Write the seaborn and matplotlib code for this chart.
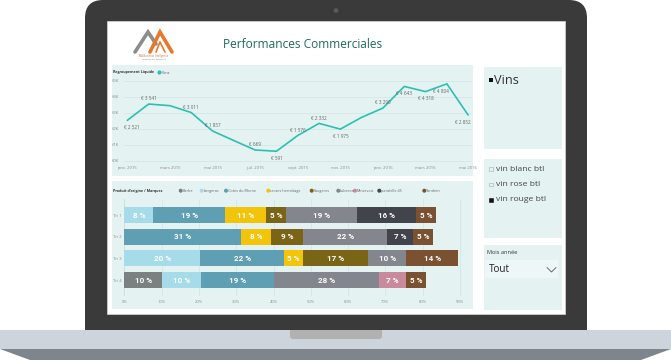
import numpy as np
import pandas as pd
import matplotlib
matplotlib.use("Agg")
import matplotlib.pyplot as plt
import seaborn as sns
from matplotlib.patches import Rectangle, FancyBboxPatch, Polygon, Circle

W, H = 671, 360

# ---- data: monthly net sales (Vins)
months = ['janv. 2015', 'févr. 2015', 'mars 2015', 'avr. 2015', 'mai 2015', 'juin 2015',
          'juil. 2015', 'août 2015', 'sept. 2015', 'oct. 2015', 'nov. 2015', 'déc. 2015',
          'janv. 2016', 'févr. 2016', 'mars 2016', 'avr. 2016', 'mai 2016']
sales = [2521, 3541, 3440, 3011, 1857, 1260, 669, 591, 1576, 2332, 1975, 2710,
         3290, 4643, 4318, 4804, 2852]
label_side = ['below', 'above', None, 'above', 'above', None, 'above', 'below', 'above',
              'above', 'below', None, 'above', 'below', 'below', 'below', 'below']
y_ticks = [0, 1000, 2000, 3000, 4000, 5000]
y_tick_labels = ['€0K', '€1K', '€2K', '€3K', '€4K', '€5K']

# ---- data: share by brand per quarter (%)
tris = ['Tri 1', 'Tri 2', 'Tri 3', 'Tri 4']
brands = ['Barbe', 'bergerac', 'Cotes du Rhone', 'crozes hermitage', 'Faugeres',
          'Luberon', 'Minervois', 'paralelle 45', 'Tandem']
brand_colors = ['#7b8081', '#a6dbea', '#5e9fb3', '#f2c40a', '#7a6416',
                '#83878d', '#c98b9b', '#41444b', '#7a5131']
tri1 = [0, 7.8, 19.1, 11.2, 5.1, 19.1, 0, 15.9, 5.4]
tri2 = [0, 0, 31.4, 7.8, 8.8, 22.4, 0, 6.9, 5.4]
tri3 = [0, 20.4, 22.4, 5.2, 17.3, 10.3, 0, 0, 13.9]
tri4 = [10.2, 10.4, 19.4, 0, 0, 28.2, 7.4, 0, 5.4]
pct_ticks = [0, 10, 20, 30, 40, 50, 60, 70, 80, 90]

slicer_items = ['vin blanc btl', 'vin rose btl', 'vin rouge btl']
slicer_checked = [False, False, True]

sns.set_style("white")
plt.rcParams['font.family'] = ['Open Sans', 'DejaVu Sans']

PANEL = '#e4f2f2'
TEAL = '#2cc0b2'

fig = plt.figure(figsize=(W / 100, H / 100), dpi=100)


def px_axes(x0, y0, x1, y1):
    return fig.add_axes([x0 / W, 1 - y1 / H, (x1 - x0) / W, (y1 - y0) / H])


# ---- laptop frame and dashboard background
bg = fig.add_axes([0, 0, 1, 1])
bg.set_xlim(0, W)
bg.set_ylim(H, 0)
bg.axis('off')

bg.add_patch(FancyBboxPatch((85, 0), 502, 345, boxstyle="round,pad=0,rounding_size=18",
                            fc='#3a3a3a', ec='none'))
bg.add_patch(Circle((336, 10.5), 1.6, color='#5c5c5c'))
bg.add_patch(Rectangle((107, 20.5), 458, 293.5, fc='white', ec='#d8d8d8', lw=0.5))
bg.add_patch(Rectangle((0, 330), W, 19, fc='#cdd4db', ec='none'))
bg.add_patch(FancyBboxPatch((290, 326), 92, 13, boxstyle="round,pad=0,rounding_size=3",
                            fc='#b1b1b1', ec='none'))
bg.add_patch(Rectangle((85, 326), 502, 4, fc='#3a3a3a', ec='none'))
bg.add_patch(Polygon([(0, 349), (W, 349), (W - 30, 360), (30, 360)], fc='#7e858c', ec='none'))

for x0, y0, w, h in [(112, 65, 361, 111), (112, 181, 361, 128),
                     (484, 67, 78, 82), (484, 159, 78, 79), (484, 245, 78, 65)]:
    bg.add_patch(Rectangle((x0, y0), w, h, fc=PANEL, ec='none'))

# logo
bg.plot([135, 148, 156], [52, 32, 44], color='#8c8c8c', lw=2.6, solid_joinstyle='miter')
bg.plot([150, 160, 172], [52, 32, 52], color='#e8772e', lw=2.6, solid_joinstyle='miter')
bg.plot([156, 160, 165], [52, 42, 52], color='#e8772e', lw=1.2)
bg.text(154, 55.5, 'MA Business Intelligence', fontsize=1.8, color='#d06a2a', ha='center', va='center')
bg.text(154, 59.5, 'Le savoir est une force', fontsize=1.6, color='#555', ha='center', va='center')

bg.text(303, 45, 'Performances Commerciales', fontsize=8.6, color='#1d6b5c', ha='center', va='center')

# line chart header
bg.text(113, 72.5, 'Regroupement Liquide', fontsize=2.6, color='#333', weight='bold', va='center')
bg.add_patch(Circle((159.5, 72.5), 1.4, color=TEAL))
bg.text(161.8, 72.5, 'Vins', fontsize=2.7, color='#555', va='center')

# bar chart header + legend
bg.text(113, 190.7, "Produit d'origine / Marques", fontsize=2.6, color='#333', weight='bold', va='center')
legend_x = [180.7, 201.7, 226, 268.3, 311.7, 338.3, 355, 379.3, 424.3]
for lx, name, col in zip(legend_x, brands, brand_colors):
    bg.add_patch(Circle((lx, 190.7), 1.3, color=col))
    bg.text(lx + 1.8, 190.7, name, fontsize=2.7, color='#666', va='center')

# right slicers
bg.add_patch(Rectangle((488.5, 77.5), 4.5, 4.5, fc='#111', ec='none'))
bg.text(494.5, 80, 'Vins', fontsize=9.2, color='#333', va='center')
for i, (item, chk) in enumerate(zip(slicer_items, slicer_checked)):
    yy = 169.3 + 15.2 * i
    bg.add_patch(Rectangle((489, yy - 2), 3.8, 3.8, fc='#111' if chk else 'none',
                           ec='#111' if chk else '#aaa', lw=0.4))
    bg.text(495.5, yy, item, fontsize=6.1, color='#444', va='center')
bg.text(487, 252.7, 'Mois année', fontsize=4.1, color='#333', va='center')
bg.add_patch(Rectangle((485, 260), 73, 18, fc='#edf7f7', ec='none'))
bg.text(488.5, 270, 'Tout', fontsize=7.2, color='#222', va='center')
bg.plot([547, 551.5, 556], [267.5, 272, 267.5], color='#555', lw=0.6)

# ---- line chart
df_line = pd.DataFrame({'idx': np.arange(len(months)), 'sales': sales})
ax = px_axes(124, 78, 472, 163)
ax.set_facecolor('none')
sns.lineplot(data=df_line, x='idx', y='sales', color=TEAL, linewidth=1.2, ax=ax)
ax.set_xlim(-0.155, 16.18)
ax.set_ylim(-144, 5169)
ax.set_yticks(y_ticks)
ax.set_yticklabels(y_tick_labels)
ax.set_xticks(df_line['idx'][::2])
ax.set_xticklabels(months[::2])
ax.tick_params(axis='both', length=0, labelsize=3, labelcolor='#8a8a8a')
ax.tick_params(axis='x', pad=2.5)
ax.tick_params(axis='y', pad=1.5)
for lab in ax.get_yticklabels():
    lab.set_horizontalalignment('left')
    lab.set_x(-0.03)
ax.grid(axis='y', color='#d2e5e5', lw=0.5)
ax.set_xlabel('')
ax.set_ylabel('')
for s in ax.spines.values():
    s.set_visible(False)
for i, (v, side) in enumerate(zip(sales, label_side)):
    if side is None:
        continue
    txt = '€ ' + f'{v:,}'.replace(',', ' ')
    dy = 3.8 if side == 'above' else -5.2
    dx = 3.5 if i == 0 else (-4 if i in (15, 16) else 0)
    ax.annotate(txt, (i, v), xytext=(dx, dy), textcoords='offset points', ha='center',
                va='center', fontsize=3.3, color='#666')

# ---- stacked bar chart
df_bar = pd.DataFrame([tri1, tri2, tri3, tri4], index=tris, columns=brands)
cum = df_bar.cumsum(axis=1)
bx = px_axes(124, 199, 472, 296)
bx.set_facecolor('none')
bx.set_axisbelow(True)
bx.grid(axis='x', color='#d2e5e5', lw=0.5)
for k in reversed(range(len(brands))):
    sns.barplot(x=cum.iloc[:, k].values, y=tris, orient='h', color=brand_colors[k],
                saturation=1, width=0.74, linewidth=0, ax=bx)
for r, tri in enumerate(tris):
    left = 0
    for name in brands:
        p = df_bar.loc[tri, name]
        if p > 0:
            bx.text(left + p / 2, r, f'{round(p)} %', ha='center', va='center',
                    fontsize=5.8, color='white', weight='bold', family=['Roboto', 'DejaVu Sans'])
        left += p
bx.set_xlim(-0.1, 93.2)
bx.set_ylim(3.74, -0.75)
bx.set_xticks(pct_ticks)
bx.set_xticklabels([f'{t}%' for t in pct_ticks])
bx.tick_params(axis='both', length=0, labelsize=3, labelcolor='#8a8a8a')
bx.tick_params(axis='x', pad=3)
bx.tick_params(axis='y', pad=2)
bx.axvline(0, color='#b8c8c8', lw=0.5, zorder=0)
bx.set_xlabel('')
bx.set_ylabel('')
for s in bx.spines.values():
    s.set_visible(False)

fig.savefig('out.png', dpi=100)
